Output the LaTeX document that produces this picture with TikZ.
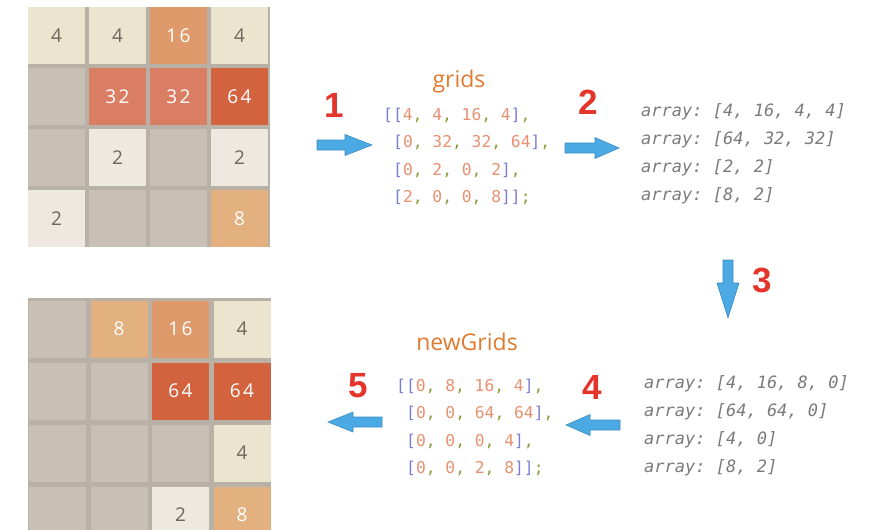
\documentclass[tikz,border=0pt]{standalone}
\usepackage{fontspec}
\setmainfont{Open Sans}
\newfontfamily\rednumfont{Liberation Sans}
\newfontfamily\tilefont[LetterSpace=12]{Open Sans}
\setmonofont{DejaVu Sans Mono}
\definecolor{gapcol}{HTML}{B9B0A6}
\definecolor{t0col}{HTML}{C9C0B5}
\definecolor{t2col}{HTML}{EDE9E1}
\definecolor{t4col}{HTML}{EBE4CF}
\definecolor{t8col}{HTML}{E3B07F}
\definecolor{t16col}{HTML}{DF9A6B}
\definecolor{t32col}{HTML}{D97D63}
\definecolor{t64col}{HTML}{D3633F}
\definecolor{darknum}{HTML}{6E655C}
\definecolor{brk}{HTML}{7A7FD0}
\definecolor{numc}{HTML}{E8906F}
\definecolor{commac}{HTML}{8C9C3C}
\definecolor{titlec}{HTML}{E07B2E}
\definecolor{arrgray}{HTML}{7A7A7A}
\definecolor{stepred}{HTML}{E3352A}
\definecolor{arrowblue}{HTML}{4BA9E3}
\definecolor{arrowedge}{HTML}{3C8DC2}
\newcommand\cb[1]{\textcolor{brk}{#1}}
\newcommand\cn[1]{\textcolor{numc}{#1}}
\newcommand\cc[1]{\textcolor{commac}{#1}}
\tikzset{
  tile/.style={minimum size=57pt, inner sep=0pt, font=\tilefont\fontsize{19}{19}\selectfont},
  tile0/.style={fill=t0col},
  tile2/.style={fill=t2col, text=darknum},
  tile4/.style={fill=t4col, text=darknum},
  tile8/.style={fill=t8col, text=white},
  tile16/.style={fill=t16col, text=white},
  tile32/.style={fill=t32col, text=white},
  tile64/.style={fill=t64col, text=white},
  codeline/.style={anchor=base west, inner sep=0pt, font=\ttfamily\fontsize{16.3}{16.3}\selectfont},
  arrline/.style={anchor=base west, inner sep=0pt, text=arrgray, font=\ttfamily\itshape\fontsize{17}{17}\selectfont},
  titletext/.style={anchor=base, inner sep=0pt, text=titlec, font=\fontsize{23}{23}\selectfont},
  stepno/.style={inner sep=0pt, text=stepred, font=\rednumfont\bfseries\fontsize{35}{35}\selectfont},
  arrowshape/.style={fill=arrowblue, draw=arrowedge, line width=0.6pt, line join=miter},
  pics/blockarrow/.style n args={3}{code={
    \path[arrowshape] (0,-5) -- ({#1-#2},-5) -- ({#1-#2},-#3) -- (#1,0)
      -- ({#1-#2},#3) -- ({#1-#2},5) -- (0,5) -- cycle;}}
}
\begin{document}
\begin{tikzpicture}[x=1pt,y=-1pt]
\useasboundingbox (0,0) rectangle (884,530);
\begin{scope}
\clip (0,0) rectangle (884,530);
% top grid
\fill[gapcol] (28,7) rectangle (270,247);
\foreach \row/\vals in {0/{4,4,16,4},1/{0,32,32,64},2/{0,2,0,2},3/{2,0,0,8}}{
  \foreach \v [count=\c from 0] in \vals {
    \node[tile, tile\v] (T\row\c) at ({56.5+61*\c},{35.5+61*\row}) {\ifnum\v>0 \v\fi};
  }
}
% bottom grid
\fill[gapcol] (28,298) rectangle (271,540);
\foreach \row/\vals in {0/{0,8,16,4},1/{0,0,64,64},2/{0,0,0,4},3/{0,0,2,8}}{
  \foreach \v [count=\c from 0] in \vals {
    \node[tile, tile\v] (B\row\c) at ({57.5+61.5*\c},{329+62*\row}) {\ifnum\v>0 \v\fi};
  }
}
\end{scope}
% titles
\node[titletext] (gt) at (459,87) {grids};
\node[titletext] (ngt) at (467,350) {newGrids};
% grids code
\node[codeline] (g1) at (383,120) {\cb{[[}\cn{4}\cc{,} \cn{4}\cc{,} \cn{16}\cc{,} \cn{4}\cb{]}\cc{,}};
\node[codeline] (g2) at (393,147) {\cb{[}\cn{0}\cc{,} \cn{32}\cc{,} \cn{32}\cc{,} \cn{64}\cb{]}\cc{,}};
\node[codeline] (g3) at (393,175) {\cb{[}\cn{0}\cc{,} \cn{2}\cc{,} \cn{0}\cc{,} \cn{2}\cb{]}\cc{,}};
\node[codeline] (g4) at (393,202) {\cb{[}\cn{2}\cc{,} \cn{0}\cc{,} \cn{0}\cc{,} \cn{8}\cb{]]}\cc{;}};
% newGrids code
\node[codeline] (n1) at (396,391) {\cb{[[}\cn{0}\cc{,} \cn{8}\cc{,} \cn{16}\cc{,} \cn{4}\cb{]}\cc{,}};
\node[codeline] (n2) at (406,418) {\cb{[}\cn{0}\cc{,} \cn{0}\cc{,} \cn{64}\cc{,} \cn{64}\cb{]}\cc{,}};
\node[codeline] (n3) at (406,446) {\cb{[}\cn{0}\cc{,} \cn{0}\cc{,} \cn{0}\cc{,} \cn{4}\cb{]}\cc{,}};
\node[codeline] (n4) at (406,473) {\cb{[}\cn{0}\cc{,} \cn{0}\cc{,} \cn{2}\cc{,} \cn{8}\cb{]]}\cc{;}};
% arrays
\node[arrline] (a1) at (641,116) {array: [4, 16, 4, 4]};
\node[arrline] (a2) at (641,144) {array: [64, 32, 32]};
\node[arrline] (a3) at (641,172) {array: [2, 2]};
\node[arrline] (a4) at (641,200) {array: [8, 2]};
\node[arrline] (b1) at (644,388) {array: [4, 16, 8, 0]};
\node[arrline] (b2) at (644,416) {array: [64, 64, 0]};
\node[arrline] (b3) at (644,444) {array: [4, 0]};
\node[arrline] (b4) at (644,472) {array: [8, 2]};
% step numbers
\node[stepno] (s1) at (334,105) {1};
\node[stepno] (s2) at (588,102) {2};
\node[stepno] (s3) at (762,280) {3};
\node[stepno] (s4) at (592,387) {4};
\node[stepno] (s5) at (358,386) {5};
% arrows
\pic at (317,145) {blockarrow={55}{27}{10.5}};
\pic at (565,148) {blockarrow={54}{24}{10.5}};
\pic[rotate=-90] at (728,260) {blockarrow={58}{35}{11}};
\pic[rotate=180] at (620,425) {blockarrow={54}{24}{10.5}};
\pic[rotate=180] at (382,422) {blockarrow={54}{25}{10}};
\end{tikzpicture}
\end{document}
